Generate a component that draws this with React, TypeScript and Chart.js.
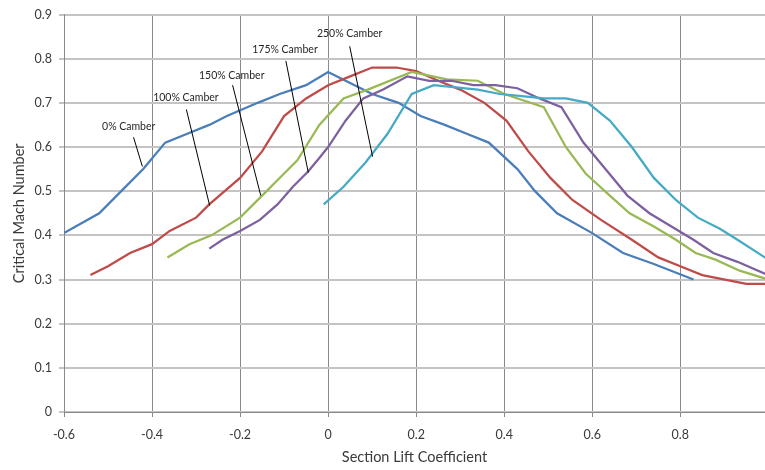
import React, { useEffect, useRef } from "react";
import { Chart, registerables } from "chart.js";

Chart.register(...registerables);

const seriesNames = ["0% Camber", "100% Camber", "150% Camber", "175% Camber", "250% Camber"];
const seriesColors = ["#4A7EBB", "#BE4B48", "#98B954", "#7D60A0", "#46AAC5"];

const x0 = [-0.6, -0.52, -0.47, -0.42, -0.37, -0.32, -0.27, -0.23, -0.16, -0.11, -0.05, 0, 0.05, 0.1, 0.16, 0.21, 0.265, 0.315, 0.365, 0.43, 0.47, 0.52, 0.6, 0.67, 0.74, 0.83];
const y0 = [0.405, 0.45, 0.5, 0.55, 0.61, 0.63, 0.65, 0.67, 0.7, 0.72, 0.74, 0.77, 0.745, 0.72, 0.7, 0.67, 0.65, 0.63, 0.61, 0.55, 0.5, 0.45, 0.405, 0.36, 0.335, 0.3];

const x100 = [-0.54, -0.5, -0.45, -0.4, -0.36, -0.3, -0.27, -0.2, -0.15, -0.1, -0.05, 0, 0.05, 0.1, 0.155, 0.2, 0.25, 0.3, 0.355, 0.405, 0.455, 0.505, 0.555, 0.62, 0.69, 0.75, 0.8, 0.85, 0.95, 1.0];
const y100 = [0.31, 0.33, 0.36, 0.38, 0.41, 0.44, 0.47, 0.53, 0.59, 0.67, 0.71, 0.74, 0.76, 0.78, 0.78, 0.772, 0.75, 0.73, 0.7, 0.66, 0.59, 0.53, 0.48, 0.435, 0.39, 0.35, 0.33, 0.31, 0.29, 0.29];

const x150 = [-0.365, -0.315, -0.265, -0.2, -0.15, -0.1, -0.07, -0.02, 0.035, 0.09, 0.19, 0.27, 0.34, 0.4, 0.49, 0.54, 0.585, 0.64, 0.685, 0.74, 0.79, 0.835, 0.88, 0.935, 1.0];
const y150 = [0.35, 0.38, 0.4, 0.44, 0.49, 0.54, 0.57, 0.65, 0.71, 0.73, 0.77, 0.753, 0.75, 0.72, 0.69, 0.6, 0.54, 0.49, 0.45, 0.42, 0.39, 0.36, 0.345, 0.32, 0.3];

const x175 = [-0.27, -0.24, -0.2, -0.155, -0.115, -0.08, -0.045, -0.02, 0, 0.04, 0.08, 0.125, 0.18, 0.23, 0.28, 0.33, 0.38, 0.43, 0.48, 0.53, 0.58, 0.63, 0.68, 0.73, 0.78, 0.83, 0.875, 0.93, 1.0];
const y175 = [0.37, 0.39, 0.41, 0.435, 0.47, 0.51, 0.545, 0.575, 0.6, 0.66, 0.71, 0.73, 0.76, 0.75, 0.75, 0.74, 0.74, 0.733, 0.71, 0.69, 0.61, 0.55, 0.49, 0.45, 0.42, 0.39, 0.36, 0.34, 0.31];

const x250 = [-0.01, 0.035, 0.085, 0.135, 0.19, 0.24, 0.29, 0.34, 0.39, 0.44, 0.49, 0.54, 0.59, 0.64, 0.69, 0.74, 0.79, 0.84, 0.89, 0.93, 1.0];
const y250 = [0.47, 0.51, 0.565, 0.63, 0.72, 0.74, 0.735, 0.73, 0.72, 0.715, 0.71, 0.71, 0.7, 0.66, 0.6, 0.53, 0.48, 0.44, 0.415, 0.39, 0.345];

const seriesX = [x0, x100, x150, x175, x250];
const seriesY = [y0, y100, y150, y175, y250];

const xTicks = [-0.6, -0.4, -0.2, 0, 0.2, 0.4, 0.6, 0.8];

// annotation label positions and leader lines (data coordinates)
const labelX = [-0.453, -0.323, -0.219, -0.098, 0.049];
const labelY = [0.646, 0.712, 0.761, 0.821, 0.856];
const leaderStartX = [-0.442, -0.322, -0.217, -0.096, 0.049];
const leaderStartY = [0.622, 0.685, 0.74, 0.795, 0.828];
const leaderEndX = [-0.422, -0.269, -0.153, -0.045, 0.101];
const leaderEndY = [0.556, 0.467, 0.49, 0.542, 0.578];

const FONT = "Lato, 'Open Sans', sans-serif";

const annotationPlugin = {
  id: "camberLabels",
  afterDatasetsDraw(chart: any) {
    const { ctx, scales } = chart;
    const xs = scales.x;
    const ys = scales.y;
    ctx.save();
    ctx.strokeStyle = "#000000";
    ctx.lineWidth = 1;
    for (let i = 0; i < seriesNames.length; i++) {
      ctx.beginPath();
      ctx.moveTo(xs.getPixelForValue(leaderStartX[i]), ys.getPixelForValue(leaderStartY[i]));
      ctx.lineTo(xs.getPixelForValue(leaderEndX[i]), ys.getPixelForValue(leaderEndY[i]));
      ctx.stroke();
    }
    ctx.fillStyle = "#262626";
    ctx.font = `10.5px ${FONT}`;
    ctx.textAlign = "center";
    ctx.textBaseline = "middle";
    for (let i = 0; i < seriesNames.length; i++) {
      ctx.fillText(seriesNames[i], xs.getPixelForValue(labelX[i]), ys.getPixelForValue(labelY[i]));
    }
    ctx.restore();
  },
};

export default function App() {
  const canvasRef = useRef<HTMLCanvasElement | null>(null);

  useEffect(() => {
    const canvas = canvasRef.current;
    if (!canvas) return;
    const datasets = seriesNames.map((name, i) => ({
      label: name,
      data: seriesX[i].map((x, j) => ({ x, y: seriesY[i][j] })),
      borderColor: seriesColors[i],
      backgroundColor: seriesColors[i],
      borderWidth: 2.25,
      pointRadius: 0,
      showLine: true,
      tension: 0,
      fill: false,
      order: seriesNames.length - i,
    }));
    const chart = new Chart(canvas, {
      type: "scatter",
      data: { datasets },
      options: {
        responsive: false,
        animation: false,
        devicePixelRatio: 1,
        layout: { padding: { top: 13, right: 0, left: 0, bottom: 0 } },
        plugins: {
          legend: { display: false },
          tooltip: { enabled: false },
        },
        scales: {
          x: {
            type: "linear",
            min: -0.6,
            max: 0.9925,
            afterBuildTicks: (scale: any) => {
              scale.ticks = xTicks.map((v) => ({ value: v }));
            },
            afterFit: (scale: any) => {
              scale.height = 58;
            },
            grid: {
              color: "#8a8a8a",
              lineWidth: 1,
              tickLength: 5,
            },
            border: { color: "#8a8a8a", width: 1 },
            ticks: {
              color: "#3a3a3a",
              font: { family: FONT, size: 12.5 },
              padding: 10,
              maxRotation: 0,
              autoSkip: false,
              callback: (v: any) => String(Number(Number(v).toFixed(1))),
            },
            title: {
              display: true,
              text: "Section Lift Coefficient",
              color: "#3a3a3a",
              font: { family: FONT, size: 14.5 },
              padding: { top: 0, bottom: 4 },
            },
          },
          y: {
            type: "linear",
            min: 0,
            max: 0.9,
            afterFit: (scale: any) => {
              scale.width = 64;
            },
            grid: {
              color: "#c4c4c4",
              lineWidth: 2,
              tickLength: 5,
            },
            border: { color: "#8a8a8a", width: 1 },
            ticks: {
              stepSize: 0.1,
              color: "#3a3a3a",
              font: { family: FONT, size: 12.5 },
              padding: 7,
              callback: (v: any) => String(Number(Number(v).toFixed(1))),
            },
            title: {
              display: true,
              text: "Critical Mach Number",
              color: "#3a3a3a",
              font: { family: FONT, size: 14.5 },
              padding: { top: 11, bottom: 0 },
            },
          },
        },
      },
      plugins: [annotationPlugin],
    });
    return () => chart.destroy();
  }, []);

  return (
    <div style={{ position: "absolute", left: 0, top: 0, width: 765, height: 470, background: "#ffffff" }}>
      <canvas ref={canvasRef} width={765} height={470} style={{ display: "block", width: 765, height: 470 }} />
    </div>
  );
}
